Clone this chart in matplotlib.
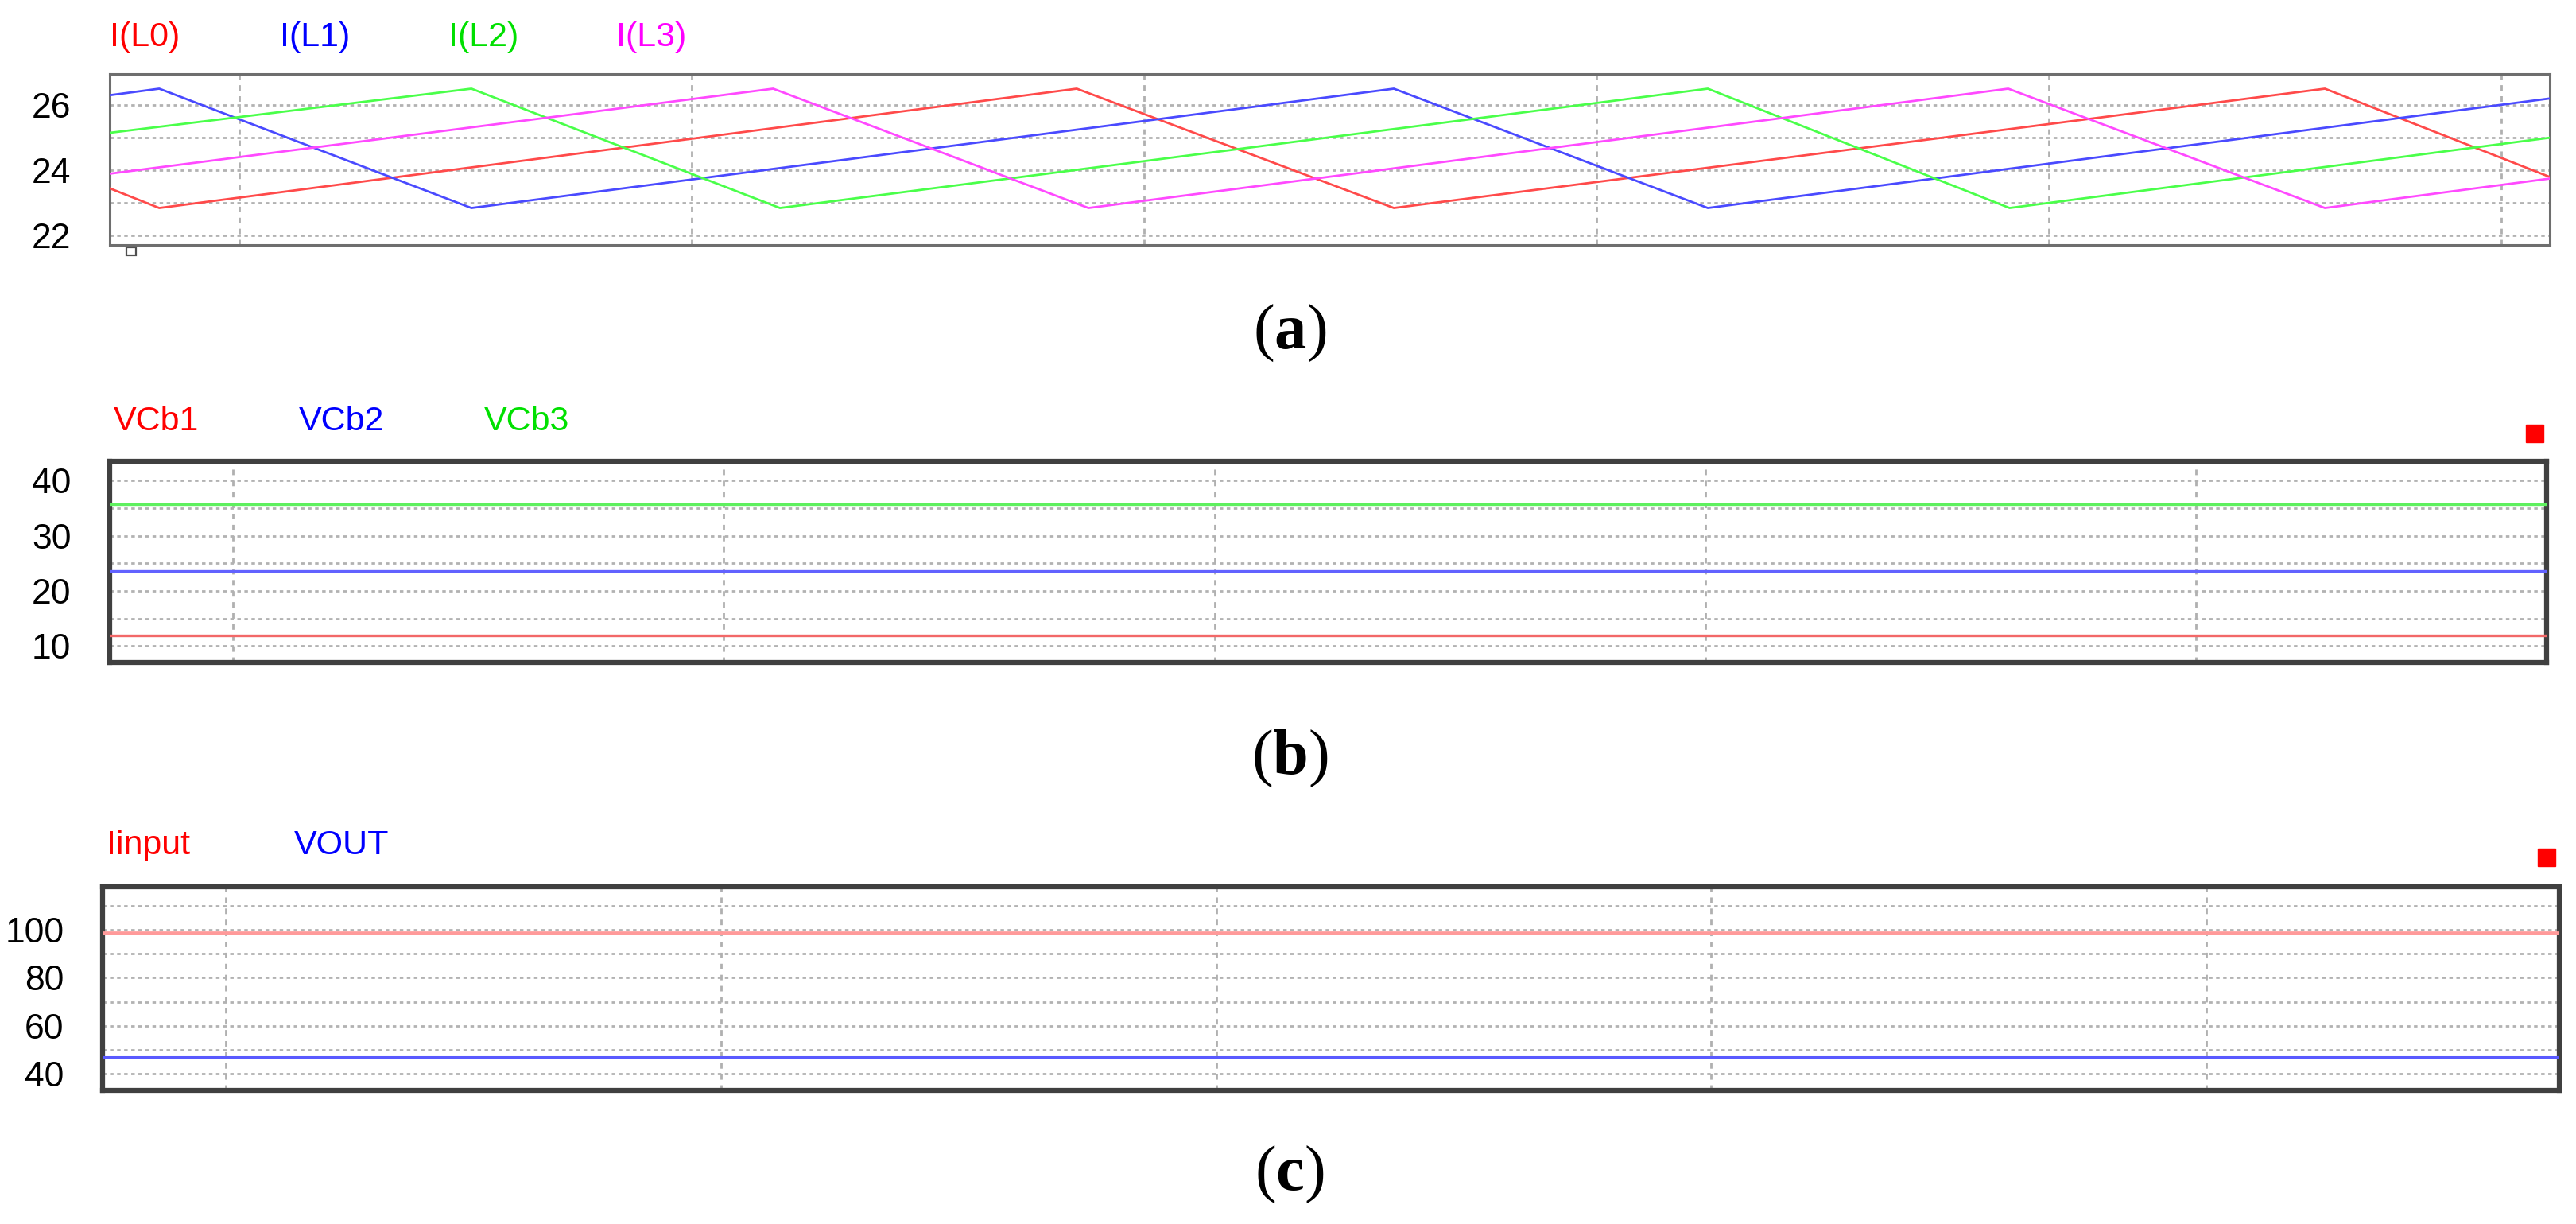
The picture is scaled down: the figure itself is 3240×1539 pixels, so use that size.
"""Three stacked simulation traces: phase inductor currents, capacitor voltages, input current / output voltage."""
import matplotlib
matplotlib.use("Agg")
import matplotlib.pyplot as plt
from matplotlib.patches import Rectangle

plt.rcParams.update({"mathtext.fontset": "custom",
                     "mathtext.bf": "Liberation Serif:bold",
                     "mathtext.rm": "Liberation Serif"})

W, H = 3241, 1539

# ---- panel (a): inductor currents (piecewise-linear vertices)
t_L0 = [0.714, 0.823, 2.851, 3.552, 5.610, 6.107]
i_L0 = [23.45, 22.85, 26.50, 22.85, 26.50, 23.80]
t_L1 = [0.714, 0.823, 1.513, 3.552, 4.246, 6.107]
i_L1 = [26.30, 26.50, 22.85, 26.50, 22.85, 26.20]
t_L2 = [0.714, 1.513, 2.195, 4.246, 4.913, 6.107]
i_L2 = [25.15, 26.50, 22.85, 26.50, 22.85, 25.00]
t_L3 = [0.714, 2.180, 2.877, 4.910, 5.610, 6.107]
i_L3 = [23.90, 26.50, 22.85, 26.50, 22.85, 23.75]
names_a = ["I(L0)", "I(L1)", "I(L2)", "I(L3)"]

# ---- panel (b): flying capacitor voltages
t_b = [0.749, 5.714]
vcb1 = [11.9, 11.9]
vcb2 = [23.6, 23.6]
vcb3 = [35.7, 35.7]
names_b = ["VCb1", "VCb2", "VCb3"]

# ---- panel (c): input current and output voltage
t_c = [0.751, 5.713]
iinput = [98.7, 98.7]
vout = [47.0, 47.0]
names_c = ["Iinput", "VOUT"]

fig = plt.figure(figsize=(W / 100, H / 100), dpi=100)


def add_ax(l, r, t, b):
    return fig.add_axes([l / W, 1 - b / H, (r - l) / W, (b - t) / H])


def style(ax, xgrid, ygrid, yticks, heavy):
    ax.set_xticks([])
    ax.set_yticks(yticks)
    ax.tick_params(axis="y", length=0, pad=35, labelsize=32)
    for lab in ax.get_yticklabels():
        lab.set_family("Liberation Sans")
    for x in xgrid:
        ax.axvline(x, color="#b0b0b0", lw=2.0, ls=(0, (2.5, 2.5)), zorder=1)
    for y in ygrid:
        ax.axhline(y, color="#b2b2b2", lw=2.0, ls=(0, (1.6, 1.6)), zorder=1)
    for s in ax.spines.values():
        if heavy:
            s.set_color("#404040")
            s.set_linewidth(4.5)
        else:
            s.set_color("#6e6e6e")
            s.set_linewidth(2.2)


lab_kw = dict(fontsize=31, family="Liberation Sans", va="center", ha="left")

# (a)
ax = add_ax(138, 3207, 93, 308)
cols_a = ["#ff4a4a", "#4a4aff", "#4aff4a", "#ff4aff"]
txt_a = ["#ff0000", "#0000ff", "#00e000", "#ff00ff"]
for t, v, c in zip([t_L0, t_L1, t_L2, t_L3], [i_L0, i_L1, i_L2, i_L3], cols_a):
    ax.plot(t, v, color=c, lw=2.0, zorder=3)
ax.set_xlim(0.7135, 6.107)
ax.set_ylim(21.72, 26.95)
style(ax, [1, 2, 3, 4, 5, 6], [22, 23, 24, 25, 26], [22, 24, 26], False)
for name, x, c in zip(names_a, [138, 352, 564, 775], txt_a):
    fig.text(x / W, 1 - 47 / H, name, color=c, **lab_kw)
fig.add_artist(Rectangle((159 / W, 1 - 321 / H), 12 / W, 10 / H, fill=False,
                         ec="#505050", lw=1.6, transform=fig.transFigure))

# (b)
ax = add_ax(138, 3203, 580, 833)
cols_b = ["#f26868", "#6262ff", "#5ef05e"]
txt_b = ["#ff0000", "#0000ff", "#00e000"]
for v, c in zip([vcb1, vcb2, vcb3], cols_b):
    ax.plot(t_b, v, color=c, lw=2.4, zorder=3)
ax.set_xlim(0.749, 5.714)
ax.set_ylim(7.0, 43.5)
style(ax, [1, 2, 3, 4, 5], [10, 15, 20, 25, 30, 35, 40], [10, 20, 30, 40], True)
for name, x, c in zip(names_b, [143, 376, 609], txt_b):
    fig.text(x / W, 1 - 530 / H, name, color=c, **lab_kw)
fig.add_artist(Rectangle((3177 / W, 1 - 556 / H), 22 / W, 22 / H, color="#ff0000",
                         transform=fig.transFigure))

# (c)
ax = add_ax(129, 3219, 1115, 1371)
ax.plot(t_c, iinput, color="#ff9a9a", lw=3.4, zorder=3)
ax.plot(t_c, vout, color="#5a5aff", lw=2.2, zorder=3)
ax.set_xlim(0.751, 5.713)
ax.set_ylim(32.9, 118.1)
style(ax, [1, 2, 3, 4, 5], [40, 50, 60, 70, 80, 90, 100, 110], [40, 60, 80, 100], True)
for name, x, c in zip(names_c, [134, 370], ["#ff0000", "#0000ff"]):
    fig.text(x / W, 1 - 1063 / H, name, color=c, **lab_kw)
fig.add_artist(Rectangle((3192 / W, 1 - 1089 / H), 22 / W, 22 / H, color="#ff0000",
                         transform=fig.transFigure))

# captions
for cap, y in zip(["a", "b", "c"], [418, 953, 1476]):
    fig.text(1622 / W, 1 - y / H, r"$\mathrm{(}\mathbf{%s}\mathrm{)}$" % cap,
             fontsize=58, ha="center", va="center")

fig.savefig("out.png", dpi=100, facecolor="white")
